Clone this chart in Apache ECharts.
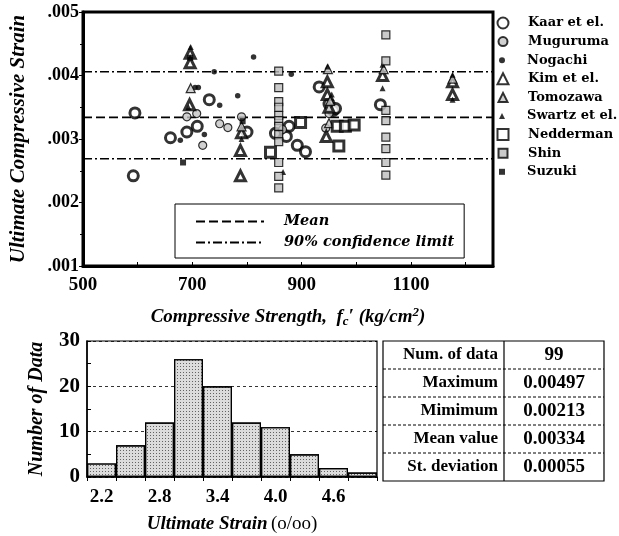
<!DOCTYPE html>
<html>
<head>
<meta charset="utf-8">
<script src="https://cdn.jsdelivr.net/npm/echarts@6/dist/echarts.min.js"></script>
<style>html,body{margin:0;padding:0;background:#fff}#c{width:619px;height:536px}</style>
</head>
<body>
<div id="c"></div>
<script>
// ---------- data ----------
const kaar = [[595,0.00341],[592,0.00242],[660,0.00302],[690,0.00311],[709,0.0032],[731,0.00362],[800,0.00311],[852,0.00309],[877,0.0032],[872,0.00304],[892,0.0029],[907,0.0028],[932,0.00382],[950,0.00355],[958,0.00345],[962,0.00348],[1044,0.00354]];
const muguruma = [[690,0.00335],[708,0.0034],[719,0.0029],[750,0.00324],[765,0.00318],[790,0.00335],[865,0.00315],[944,0.00317],[950,0.0034]];
const nogachi = [[678,0.00298],[705,0.00381],[711,0.00381],[722,0.00307],[750,0.00353],[783,0.00368],[812,0.00429],[740,0.00406],[881,0.00402]];
const kim = [[696,0.00435],[696,0.0042],[695,0.00354],[788,0.00282],[788,0.00242],[790,0.0031],[947,0.0039],[947,0.0037],[950,0.0035],[945,0.00304],[1048,0.004],[1176,0.0039],[1176,0.0037]];
const tomozawa = [[697,0.0038],[790,0.0032],[948,0.0041],[952,0.0036],[1050,0.0041],[1176,0.00395],[950,0.00325]];
const swartz = [[697,0.00445],[693,0.0035],[866,0.00248],[947,0.00414],[955,0.0037],[1048,0.00417],[1048,0.0038],[1176,0.00401],[1176,0.00362],[790,0.003]];
const nedderman = [[843,0.00279],[898,0.00326],[965,0.0032],[980,0.0032],[996,0.00322],[968,0.00289]];
const shin = [[858,0.00407],[858,0.00381],[858,0.00359],[858,0.0035],[858,0.00337],[858,0.00329],[858,0.0032],[858,0.00307],[858,0.00296],[858,0.00263],[858,0.00241],[858,0.00223],
              [1054,0.00464],[1054,0.00423],[1054,0.00345],[1054,0.00329],[1054,0.00303],[1054,0.00285],[1054,0.00263],[1054,0.00243]];
const suzuki = [[683,0.00263],[696,0.00428],[792,0.00328]];
const meanLine = [[500,0.00334],[1250,0.00334]];
const upperLimit = [[500,0.00406],[1250,0.00406]];
const lowerLimit = [[500,0.00269],[1250,0.00269]];

const histCategories = ['2.2','2.5','2.8','3.1','3.4','3.7','4.0','4.3','4.6','4.9'];
const histCounts = [3,7,12,26,20,12,11,5,2,1];

const tableLabels = ['Num. of data','Maximum','Mimimum','Mean value','St. deviation'];
const tableValues = ['99','0.00497','0.00213','0.00334','0.00055'];

// ---------- styles ----------
const SERIF = '"Liberation Serif","DejaVu Serif",serif';
const WIDE = '"DejaVu Serif","Liberation Serif",serif';
const seriesDefs = [
  {name:'Kaar et el.', data:kaar, symbol:'circle', size:10, style:{color:'#fff', borderColor:'#000', borderWidth:3}, icon:11},
  {name:'Muguruma', data:muguruma, symbol:'circle', size:8, style:{color:'#c4c4c4', borderColor:'#000', borderWidth:1.2}, icon:9},
  {name:'Nogachi', data:nogachi, symbol:'circle', size:5.5, style:{color:'#000'}, icon:6},
  {name:'Kim et el.', data:kim, symbol:'triangle', size:10, style:{color:'#fff', borderColor:'#000', borderWidth:3}, icon:11},
  {name:'Tomozawa', data:tomozawa, symbol:'triangle', size:9, style:{color:'#c4c4c4', borderColor:'#000', borderWidth:1.2}, icon:9},
  {name:'Swartz et el.', data:swartz, symbol:'triangle', size:6, style:{color:'#000'}, icon:6},
  {name:'Nedderman', data:nedderman, symbol:'rect', size:10, style:{color:'#fff', borderColor:'#000', borderWidth:3}, icon:11},
  {name:'Shin', data:shin, symbol:'rect', size:8, style:{color:'#bdbdbd', borderColor:'#000', borderWidth:1.2}, icon:9},
  {name:'Suzuki', data:suzuki, symbol:'rect', size:6, style:{color:'#000'}, icon:6}
];

const series = [];
const legends = [];
seriesDefs.forEach((d, i) => {
  series.push({
    type:'scatter', name:d.name, data:d.data, xAxisIndex:0, yAxisIndex:0,
    symbol:d.symbol, symbolSize:d.size, itemStyle:d.style, z:5,
    emphasis:{disabled:true}
  });
  const w = d.icon;
  legends.push({
    data:[d.name], orient:'vertical', selectedMode:false,
    left: 502 - w/2, top: 23 + 18.6*i - 7, padding:0,
    itemWidth:w, itemHeight:w,
    textStyle:{fontFamily:WIDE, fontWeight:'bold', fontSize:13, color:'#000', lineHeight:14, padding:[0,0,0,20 - w/2]}
  });
});

const lineCommon = {type:'line', symbol:'none', xAxisIndex:0, yAxisIndex:0, z:3, silent:true, itemStyle:{color:'#000'}};
series.push(Object.assign({name:'Mean', data:meanLine, lineStyle:{color:'#000', width:1.6, type:[9,4]}}, lineCommon));
series.push(Object.assign({name:'90% confidence limit', data:upperLimit, lineStyle:{color:'#000', width:1.6, type:[9,3,2,3]}}, lineCommon));
series.push(Object.assign({name:'90% confidence limit', data:lowerLimit, lineStyle:{color:'#000', width:1.6, type:[9,3,2,3]}}, lineCommon));

legends.push({
  data:['Mean','90% confidence limit'], orient:'vertical', selectedMode:false,
  left:175, top:204, padding:[10,10,8,20], itemGap:6,
  itemWidth:68, itemHeight:14,
  itemStyle:{opacity:0},
  backgroundColor:'#fff', borderColor:'#000', borderWidth:1,
  textStyle:{fontFamily:WIDE, fontWeight:'bold', fontStyle:'italic', fontSize:14.5, color:'#000', lineHeight:14, padding:[0,0,0,15]}
});

series.push({
  type:'bar', name:'hist', data:histCounts, xAxisIndex:1, yAxisIndex:1,
  barCategoryGap:'0%',
  itemStyle:{color:'#dcdcdc', borderColor:'#000', borderWidth:1.2,
    decal:{symbol:'rect', symbolSize:1, color:'rgba(0,0,0,0.55)', dashArrayX:[1,2], dashArrayY:[1,2], rotation:0}},
  emphasis:{disabled:true}, silent:true
});

// table graphics
const TX = 383, TY = 341, TW = 221, RH = 28, DIV = 504;
const graphics = [];
graphics.push({type:'rect', shape:{x:TX, y:TY, width:TW, height:RH*tableLabels.length}, style:{fill:'#fff', stroke:'#000', lineWidth:1.2}});
graphics.push({type:'line', shape:{x1:DIV, y1:TY, x2:DIV, y2:TY+RH*tableLabels.length}, style:{stroke:'#000', lineWidth:1.2}});
for (let r = 1; r < tableLabels.length; r++) {
  graphics.push({type:'line', shape:{x1:TX, y1:TY+RH*r, x2:TX+TW, y2:TY+RH*r}, style:{stroke:'#000', lineWidth:1, lineDash:[3,2]}});
}
tableLabels.forEach((t, r) => {
  graphics.push({type:'text', x:DIV-6, y:TY+RH*r+RH/2, style:{text:t, fill:'#000', font:'bold 17px ' + SERIF, align:'right', verticalAlign:'middle'}});
  graphics.push({type:'text', x:(DIV+TX+TW)/2, y:TY+RH*r+RH/2, style:{text:tableValues[r], fill:'#000', font:'bold 19px ' + SERIF, align:'center', verticalAlign:'middle'}});
});

const option = {
  animation:false,
  backgroundColor:'#fff',
  grid:[
    {left:83, top:12, width:410, height:254, show:true, borderColor:'#000', borderWidth:3, backgroundColor:'transparent'},
    {left:87, top:341, width:290, height:136, show:true, borderColor:'#000', borderWidth:1.2, backgroundColor:'transparent'}
  ],
  xAxis:[
    {type:'value', gridIndex:0, min:500, max:1250, interval:200,
      axisLine:{show:true, lineStyle:{color:'#000', width:3}},
      axisTick:{show:true, inside:true, length:4, lineStyle:{color:'#000'}},
      minorTick:{show:true, splitNumber:2, length:4, lineStyle:{color:'#000'}},
      splitLine:{show:false},
      axisLabel:{showMaxLabel:false, margin:10, fontFamily:SERIF, fontWeight:'bold', fontSize:19, color:'#000',
        formatter:v => String(v)},
      name:'{a|Compressive Strength,  f}{s|c}{a|\u2032 (kg/cm}{p|2}{a|)}',
      nameLocation:'middle', nameGap:40,
      nameTextStyle:{rich:{
        a:{fontFamily:SERIF, fontWeight:'bold', fontStyle:'italic', fontSize:19, color:'#000'},
        s:{fontFamily:SERIF, fontWeight:'bold', fontStyle:'italic', fontSize:13, color:'#000', padding:[9,0,0,0]},
        p:{fontFamily:SERIF, fontWeight:'bold', fontStyle:'italic', fontSize:13, color:'#000', padding:[0,0,9,0]}
      }}
    },
    {type:'category', gridIndex:1, data:histCategories, boundaryGap:true,
      axisLine:{show:true, lineStyle:{color:'#000', width:1.5}},
      axisTick:{show:true, interval:0, length:4, lineStyle:{color:'#000'}},
      axisLabel:{interval:1, margin:11, fontFamily:SERIF, fontWeight:'bold', fontSize:19, color:'#000'},
      name:'{a|Ultimate Strain} {b|(o/oo)}', nameLocation:'middle', nameGap:38,
      nameTextStyle:{rich:{
        a:{fontFamily:SERIF, fontWeight:'bold', fontStyle:'italic', fontSize:19, color:'#000'},
        b:{fontFamily:SERIF, fontSize:19, color:'#000'}
      }}
    }
  ],
  yAxis:[
    {type:'value', gridIndex:0, min:0.001, max:0.005, interval:0.001,
      axisLine:{show:true, lineStyle:{color:'#000', width:3}},
      axisTick:{show:true, length:4, lineStyle:{color:'#000'}},
      minorTick:{show:true, splitNumber:2, length:3, lineStyle:{color:'#000'}},
      splitLine:{show:false},
      axisLabel:{margin:4, fontFamily:SERIF, fontWeight:'bold', fontSize:18, color:'#000',
        formatter:v => v.toFixed(3).replace(/^0/, '')},
      name:'Ultimate Compressive Strain', nameLocation:'middle', nameGap:54,
      nameTextStyle:{fontFamily:SERIF, fontWeight:'bold', fontStyle:'italic', fontSize:21, color:'#000'}
    },
    {type:'value', gridIndex:1, min:0, max:30, interval:10,
      axisLine:{show:true, lineStyle:{color:'#000', width:1.5}},
      axisTick:{show:true, inside:true, length:4, lineStyle:{color:'#000'}},
      minorTick:{show:true, splitNumber:2, length:4, lineStyle:{color:'#000'}},
      splitLine:{show:true, lineStyle:{color:'#000', type:[3,3], width:0.8}},
      axisLabel:{margin:7, fontFamily:SERIF, fontWeight:'bold', fontSize:21, color:'#000'},
      name:'Number of Data', nameLocation:'middle', nameGap:40,
      nameTextStyle:{fontFamily:SERIF, fontWeight:'bold', fontStyle:'italic', fontSize:20, color:'#000'}
    }
  ],
  legend:legends,
  series:series,
  graphic:graphics
};

const chart = echarts.init(document.getElementById('c'), null, {renderer:'canvas'});
chart.setOption(option);
</script>
</body>
</html>
